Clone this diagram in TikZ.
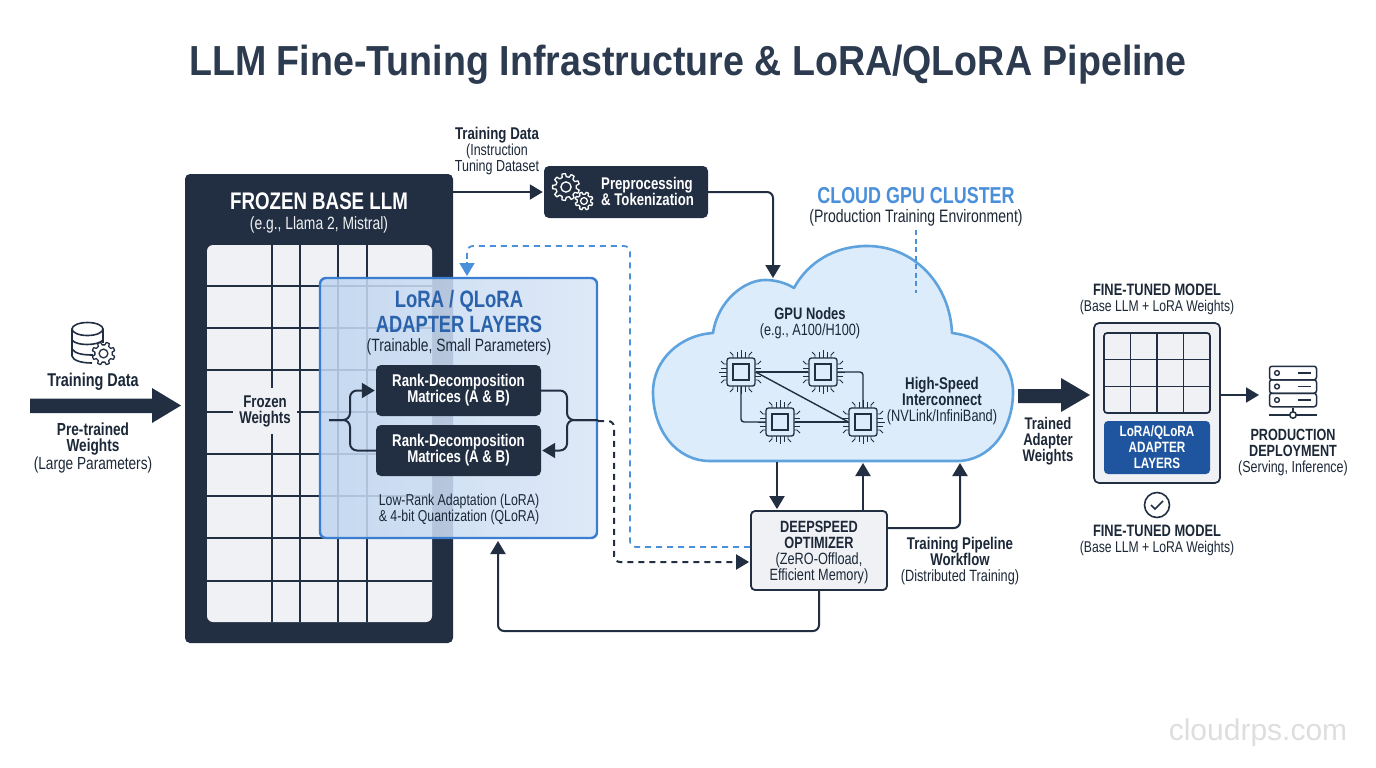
\documentclass[tikz,border=0pt]{standalone}
\usepackage{fontspec}
\usetikzlibrary{arrows.meta,calc}
\setmainfont{Liberation Sans}
\newfontfamily\nar[FakeStretch=0.78]{Liberation Sans}
\newfontfamily\ttlf[FakeStretch=0.895]{Liberation Sans}
\definecolor{ink}{HTML}{222F42}
\definecolor{txt}{HTML}{1C2838}
\definecolor{ttlc}{HTML}{2C3B4F}
\definecolor{panel}{HTML}{EFF1F4}
\definecolor{adapt}{HTML}{3B7DD0}
\definecolor{adtxt}{HTML}{2A62AB}
\definecolor{cloudl}{HTML}{5FA3DE}
\definecolor{cloudf}{HTML}{DDECFB}
\definecolor{blued}{HTML}{4A8FDA}
\definecolor{deep}{HTML}{1F559F}
\tikzset{
  lbl/.style={inner sep=0pt,align=center,text=txt,font=\nar},
  conn/.style={draw=ink,line width=2pt,rounded corners=6pt},
  arr/.style={conn,-{Triangle[length=13pt,width=15pt]},shorten >=1pt},
  dashdark/.style={arr,dash pattern=on 6pt off 5pt},
  dashblue/.style={draw=blued,line width=1.7pt,rounded corners=6pt,dash pattern=on 6pt off 5pt},
  darkbox/.style={draw=none,fill=ink,rounded corners=5pt,inner sep=0pt},
  chipbox/.style={draw=ink,fill=cloudf,line width=1.3pt,rounded corners=2.5pt,minimum size=28pt,inner sep=0pt},
  chipin/.style={draw=ink,fill=cloudf,line width=1.3pt,minimum size=16pt,inner sep=0pt},
  pin/.style={draw=ink,line width=.9pt},
  grid/.style={draw=ink,line width=1.5pt},
}
\newcommand{\fs}[1]{\fontsize{#1}{16pt}\selectfont}
\newcommand{\gearicon}[6]{% x y radius teeth fill stroke
  \begin{scope}[shift={(#1,#2)}]
    \pgfmathsetmacro{\gr}{#3}\pgfmathsetmacro{\gri}{#3*0.76}\pgfmathsetmacro{\st}{360/#4}
    \draw[#6,line width=1.3pt,fill=#5,line join=round] (0:\gri)
      \foreach \k in {1,...,#4}{
        -- ({(\k-1)*\st+0.2*\st}:\gri) -- ({(\k-1)*\st+0.32*\st}:\gr) -- ({(\k-1)*\st+0.68*\st}:\gr) -- ({(\k-1)*\st+0.8*\st}:\gri)
      } -- cycle;
    \draw[#6,line width=1.3pt] (0,0) circle ({#3*0.38});
  \end{scope}}
\newcommand{\chipat}[3]{%
  \begin{scope}[shift={(#2,#3)}]
   \foreach \r in {0,90,180,270}{
    \begin{scope}[rotate=\r]
      \draw[pin] (-8,-14) -- (-8,-17) -- (-11,-20);
      \draw[pin] (-4,-14) -- (-4,-20);
      \draw[pin] (0,-14) -- (0,-22);
      \draw[pin] (4,-14) -- (4,-20);
      \draw[pin] (8,-14) -- (8,-17) -- (11,-20);
    \end{scope}}
  \end{scope}
  \node[chipbox] (#1) at (#2,#3) {};
  \node[chipin] (#1i) at (#2,#3) {};}
\begin{document}
\begin{tikzpicture}[x=1pt,y=-1pt]
\useasboundingbox (0,0) rectangle (1376,768);
\fill[white] (0,0) rectangle (1376,768);

% title
\node[inner sep=0pt,anchor=base,text=ttlc,font=\ttlf\fontsize{42}{44}\selectfont\bfseries] (title) at (688,75) {LLM Fine-Tuning Infrastructure \& LoRA/QLoRA Pipeline};

% left input
\draw[ink,line width=1.6pt] (72,329) -- (72,356) .. controls (73,360) and (80,363) .. (92,363);
\draw[ink,line width=1.6pt] (103,329) -- (103,343);
\draw[ink,line width=1.6pt] (87.5,329) ellipse[x radius=15.5,y radius=6.5];
\draw[ink,line width=1.6pt] (72,340) .. controls (76,346) and (98,346) .. (103,340);
\draw[ink,line width=1.6pt] (72,349) .. controls (75,354) and (84,355) .. (93,355);
\gearicon{103.5}{353.5}{11.5}{8}{white}{ink}
\node[lbl,font=\nar\fs{18.5}\bfseries] (tdata) at (93,382) {Training Data};
\fill[ink] (30,398.5) -- (152,398.5) -- (152,388) -- (181,405.5) -- (152,423) -- (152,413) -- (30,413) -- cycle;
\node[lbl,font=\nar\fs{17.5}] (ptw) at (93,448) {\bfseries Pre-trained\\\bfseries Weights\\(Large Parameters)};

% frozen base
\node[darkbox,minimum width=268pt,minimum height=469pt] (frozen) at (319,408.5) {};
\node[lbl,text=white,font=\nar\fs{24}\bfseries] (frozent) at (319,201) {FROZEN BASE LLM};
\node[lbl,text=panel,font=\nar\fs{17.8}] (frozens) at (319,224.5) {(e.g., Llama 2, Mistral)};
\node[fill=panel,draw=none,rounded corners=6pt,minimum width=225pt,minimum height=377pt,inner sep=0pt] (panel) at (319.5,433.5) {};
\foreach \xx in {272,300,338,367} \draw[grid] (\xx,245) -- (\xx,622);
\foreach \yy in {286,328,370,412,454,496,538,581} \draw[grid] (207,\yy) -- (432,\yy);
\node[fill=panel,inner sep=0pt,minimum width=64pt,minimum height=46pt,lbl,font=\nar\fs{17}\bfseries] (fw) at (265,411) {Frozen\\Weights};

% adapter
\node[draw=adapt,line width=2.4pt,rounded corners=6pt,fill opacity=.87,left color=adapt!32!white,right color=adapt!19!white,minimum width=277pt,minimum height=260pt,inner sep=0pt] (adapter) at (458.5,408) {};
\node[lbl,text=adtxt,font=\nar\fs{23.7}\bfseries] (adt1) at (459,301.5) {LoRA / QLoRA};
\node[lbl,text=adtxt,font=\nar\fs{23.5}\bfseries] (adt2) at (459,324.5) {ADAPTER LAYERS};
\node[lbl,font=\nar\fs{17.8}] (adt3) at (459,347) {(Trainable, Small Parameters)};
\node[darkbox,minimum width=165pt,minimum height=51pt,text=white,align=center,font=\nar\fs{17}\bfseries] (rank1) at (458.5,390.5) {Rank-Decomposition\\Matrices (A \& B)};
\node[darkbox,minimum width=165pt,minimum height=51pt,text=white,align=center,font=\nar\fs{17}\bfseries] (rank2) at (458.5,450.5) {Rank-Decomposition\\Matrices (A \& B)};
\node[lbl,font=\nar\fs{15.8}] (adt4) at (459,509) {Low-Rank Adaptation (LoRA)\\\& 4-bit Quantization (QLoRA)};

\coordinate (brL) at (329,420);
\coordinate (brLj) at (350,420);
\coordinate (brRj) at (567,420);
\coordinate (brR) at (adapter.east |- brRj);
\coordinate (dashTurn) at (614,421);
\coordinate (bluetop) at (630,246);
\coordinate (bluetip) at (467,276);
\draw[arr,rounded corners=7pt] (brL) -- (brLj) -- (brLj |- rank1.west) -- (rank1.west);
\draw[conn,rounded corners=7pt] (brL) -- (brLj) -- (brLj |- rank2.west) -- (rank2.west);
\draw[conn,rounded corners=7pt] (rank1.east) -- (brRj |- rank1.east) -- (brRj) -- (brR);
\draw[arr,rounded corners=7pt] (brR) -- (brRj) -- (brRj |- rank2.east) -- (rank2.east);

% preprocessing
\node[darkbox,minimum width=164pt,minimum height=52pt] (prep) at (626,192) {};
\node[lbl,text=white,align=left,font=\nar\fs{16.9}\bfseries,anchor=west] (prept) at (601,191) {Preprocessing\\\& Tokenization};
\gearicon{566}{187}{13.5}{9}{ink}{white}
\gearicon{584}{201}{9}{8}{ink}{white}
\draw[arr] (frozen.east |- prep.west) -- (prep.west);
\node[lbl,font=\nar\fs{16}] (td2) at (497,151) {\fontsize{17}{16}\selectfont\bfseries Training Data\\(Instruction\\Tuning Dataset};

% cloud
\draw[cloudl,line width=2.6pt,fill=cloudf,line join=round] (710,461)
  .. controls (676,461) and (653,430) .. (653,392)
  .. controls (653,360) and (680,335) .. (713,333)
  .. controls (718,300) and (745,280) .. (765,280)
  .. controls (776,280) and (786,283) .. (794,288)
  .. controls (808,262) and (835,246) .. (867,246)
  .. controls (915,246) and (950,285) .. (952,333)
  .. controls (985,337) and (1013,360) .. (1013,392)
  .. controls (1013,430) and (990,461) .. (957,461) -- cycle;
\coordinate (cloudtop) at (773,279);
\coordinate (cloudb1) at (777,462);
\coordinate (cloudb2) at (863,462);
\coordinate (cloudb3) at (960,462);
\draw[arr] (prep.east) -- (cloudtop |- prep.east) -- (cloudtop);
\node[lbl,text=blued,font=\nar\fs{23}\bfseries] (cgc) at (916,196) {CLOUD GPU CLUSTER};
\node[lbl,font=\nar\fs{18}] (cgs) at (916,218) {(Production Training Environment)};
\coordinate (cdash1) at (916,230);
\coordinate (cdash2) at (916,293);
\draw[blued,line width=1.1pt,dash pattern=on 5pt off 3.5pt] (cdash1) -- (cdash2);
\node[lbl,font=\nar\fs{16.3}] (gpun) at (810,323) {\fontsize{16.6}{16}\selectfont\bfseries GPU Nodes\\(e.g., A100/H100)};
\node[lbl,font=\nar\fs{17}] (hsi) at (942,401) {\bfseries High-Speed\\\bfseries Interconnect\\\fontsize{16.4}{16}\selectfont(NVLink/InfiniBand)};

\chipat{chipA}{741}{372}
\chipat{chipB}{823}{372}
\chipat{chipC}{780}{422}
\chipat{chipD}{863}{422}
\draw[ink,line width=1.4pt] (chipA.east) -- (chipB.west);
\draw[ink,line width=1.4pt] (chipA.east) -- (chipD.west);
\draw[ink,line width=1.4pt] (chipC.east) -- (chipD.west);
\draw[ink,line width=1.4pt,rounded corners=3pt] (chipA.south) -- (chipA.south |- chipC.west) -- (chipC.west);
\draw[ink,line width=1.4pt,rounded corners=3pt] (chipB.east) -- (chipD.north |- chipB.east) -- (chipD.north);

% optimizer
\node[draw=ink,line width=1.8pt,fill=panel,rounded corners=4pt,minimum width=136pt,minimum height=79pt,inner sep=0pt] (opt) at (819,550.5) {};
\node[lbl,font=\nar\fs{16.3}] (optt) at (819,552) {\bfseries DEEPSPEED\\\bfseries OPTIMIZER\\(ZeRO-Offload,\\Efficient Memory)};
\node[lbl,font=\nar\fs{17}] (tpw) at (960,561) {\bfseries Training Pipeline\\\bfseries Workflow\\\fontsize{16.3}{16}\selectfont(Distributed Training)};
\draw[arr] (cloudb1) -- (cloudb1 |- opt.north);
\draw[arr] (cloudb2 |- opt.north) -- (cloudb2);
\coordinate (optR) at (opt.east |- 0,528);
\draw[arr] (optR) -- (cloudb3 |- optR) -- (cloudb3);
\coordinate (optB) at (0,631);
\coordinate (adIn) at (498,540);
\draw[arr] (opt.south) -- (opt.south |- optB) -- (adIn |- optB) -- (adIn);
\draw[dashblue] (opt.west |- 0,547) -- (bluetop |- 0,547) -- (bluetop) -- (bluetip |- bluetop) -- (467,262);
\draw[draw=blued,line width=1.6pt,-{Triangle[length=13pt,width=15pt]}] (467,262) -- (bluetip);
\coordinate (dashIn) at (opt.west |- 0,562);
\draw[dashdark] (brR |- dashTurn) -- (dashTurn) -- (dashTurn |- dashIn) -- (dashIn);

% right
\fill[ink] (1018,389) -- (1061,389) -- (1061,378) -- (1090,395) -- (1061,412) -- (1061,403) -- (1018,403) -- cycle;
\node[lbl,font=\nar\fs{16.8}\bfseries] (taw) at (1048,441) {Trained\\Adapter\\Weights};
\node[lbl,font=\nar\fs{16.5}] (ftm1) at (1157,299) {\bfseries FINE-TUNED MODEL\\\fontsize{15.6}{16}\selectfont(Base LLM + LoRA Weights)};
\node[draw=ink,line width=1.7pt,fill=panel,rounded corners=5pt,minimum width=126pt,minimum height=160pt,inner sep=0pt] (ftbox) at (1157,403) {};
\node[draw=ink,line width=1.7pt,fill=panel,rounded corners=3pt,minimum width=106pt,minimum height=80pt,inner sep=0pt] (ftgrid) at (1157,373) {};
\foreach \xx in {1130.5,1157,1183.5} \draw[ink,line width=1.4pt] (\xx,333) -- (\xx,413);
\foreach \yy in {359.5,386.5} \draw[ink,line width=1.4pt] (1104,\yy) -- (1210,\yy);
\node[fill=deep,rounded corners=4pt,minimum width=106pt,minimum height=53pt,inner sep=0pt,text=white,align=center,font=\nar\fs{15}\bfseries] (ftad) at (1157,447.5) {LoRA/QLoRA\\ADAPTER\\LAYERS};
\node[circle,draw=ink,line width=1.6pt,minimum size=25pt,inner sep=0pt] (chk) at (1157,505) {};
\draw[ink,line width=1.6pt] ($(chk)+(-6,0)$) -- ($(chk)+(-2,4)$) -- ($(chk)+(6,-4)$);
\node[lbl,font=\nar\fs{16.5}] (ftm2) at (1157,540) {\bfseries FINE-TUNED MODEL\\\fontsize{15.6}{16}\selectfont(Base LLM + LoRA Weights)};

% server
\foreach \n/\yy in {sa/373,sb/386.5,sc/400}{
  \node[draw=ink,line width=1.5pt,rounded corners=2.5pt,minimum width=47pt,minimum height=13.5pt,inner sep=0pt] (\n) at (1293,\yy) {};
  \draw[ink,line width=1.4pt] (1277,\yy) circle (2.4);
  \draw[ink,line width=1.4pt] (1298,\yy) -- (1311,\yy);
}
\coordinate (srvL) at (1269,415);
\coordinate (srvR) at (1317,415);
\draw[ink,line width=1.5pt] (srvL) -- (srvR);
\draw[ink,line width=1.5pt] (sc.south) -- (1293,412);
\node[circle,draw=ink,fill=white,line width=1.5pt,minimum size=6.5pt,inner sep=0pt] (srvC) at (1293,415) {};
\coordinate (srvIn) at (1260,395);
\draw[arr] (ftbox.east |- srvIn) -- (srvIn);
\node[lbl,font=\nar\fs{16.2}] (pd) at (1293,452) {\bfseries PRODUCTION\\\bfseries DEPLOYMENT\\\fontsize{16}{16}\selectfont(Serving, Inference)};

\node[inner sep=0pt,text=black!13,font=\fontsize{30}{32}\selectfont] (wm) at (1258,733) {cloudrps.com};
\end{tikzpicture}
\end{document}
